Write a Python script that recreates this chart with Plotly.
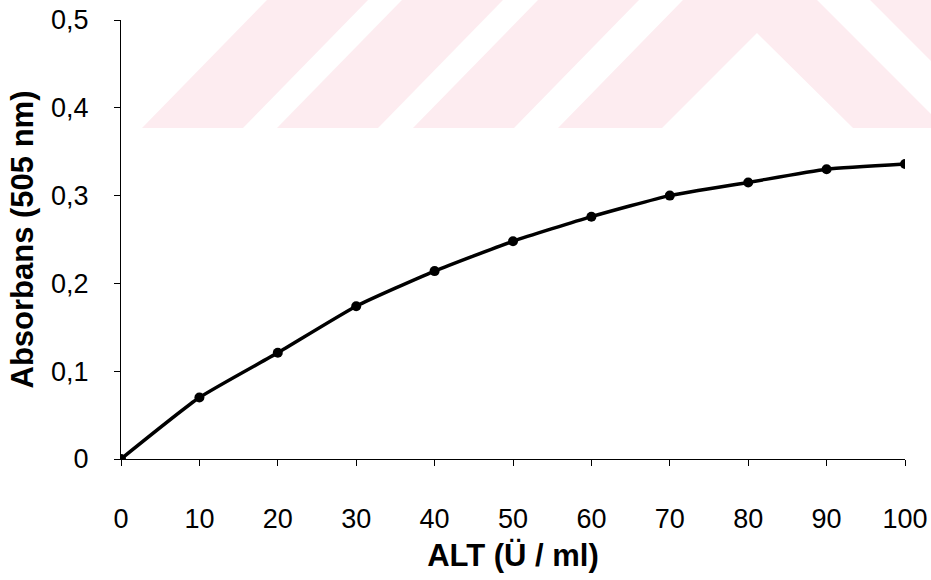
import plotly.graph_objects as go

# ALT activity standard curve
alt_units = [0, 10, 20, 30, 40, 50, 60, 70, 80, 90, 100]
absorbance = [0.0, 0.070, 0.121, 0.174, 0.214, 0.248, 0.276, 0.300, 0.315, 0.330, 0.336]

x_ticks = [0, 10, 20, 30, 40, 50, 60, 70, 80, 90, 100]
y_ticks = [0, 0.1, 0.2, 0.3, 0.4, 0.5]
y_tick_text = ["0", "0,1", "0,2", "0,3", "0,4", "0,5"]

W, H = 931, 580
ML, MR, MT, MB = 121, 26, 20, 121
PW, PH = W - ML - MR, H - MT - MB


def px(x, y):
    """Pixel position on the page -> paper coordinates."""
    return (x - ML) / PW, (H - MB - y) / PH


def path(points):
    pts = [px(x, y) for x, y in points]
    return "M " + " L ".join(f"{a:.4f},{b:.4f}" for a, b in pts) + " Z"


# light logo pattern in the page background
logo_polys = [
    [(142, 128), (243, 128), (368, 0), (267, 0)],
    [(277, 128), (378, 128), (503, 0), (402, 0)],
    [(413, 128), (514, 128), (639, 0), (538, 0)],
    [(558, 128), (683, 0), (817, 0), (931, 114), (931, 128),
     (853, 128), (757, 33), (662, 128)],
    [(870, 0), (931, 0), (931, 61)],
]
shapes = [
    dict(type="path", xref="paper", yref="paper", path=path(p),
         fillcolor="rgb(253,236,240)", line=dict(width=0), layer="below")
    for p in logo_polys
]

fig = go.Figure()
fig.add_trace(go.Scatter(
    x=alt_units, y=absorbance, mode="lines+markers",
    line=dict(color="black", width=3.5, shape="spline", smoothing=0.5),
    marker=dict(color="black", size=10),
    showlegend=False,
))

font = "Liberation Sans, Arial, sans-serif"
fig.update_layout(
    width=W, height=H,
    margin=dict(l=ML, r=MR, t=MT, b=MB),
    paper_bgcolor="white", plot_bgcolor="rgba(0,0,0,0)",
    shapes=shapes,
    font=dict(family=font, color="black"),
    xaxis=dict(
        range=[0, 100], tickvals=x_ticks, ticktext=[str(v) for v in x_ticks],
        showgrid=False, zeroline=False, showline=True, linecolor="black", linewidth=1,
        ticks="outside", ticklen=6, tickcolor="black", tickwidth=1,
        tickfont=dict(size=27, family=font), ticklabelstandoff=30, automargin=False,
        title=dict(text="<b>ALT (Ü / ml)</b>", font=dict(size=31, family=font), standoff=10),
    ),
    yaxis=dict(
        range=[0, 0.5], tickvals=y_ticks, ticktext=y_tick_text,
        showgrid=False, zeroline=False, showline=True, linecolor="black", linewidth=1,
        ticks="outside", ticklen=6, tickcolor="black", tickwidth=1,
        tickfont=dict(size=27, family=font), ticklabelstandoff=20, automargin=False,
        title=dict(text="<b>Absorbans (505 nm)</b>", font=dict(size=31, family=font), standoff=8),
    ),
)

fig.write_html("out.html")
